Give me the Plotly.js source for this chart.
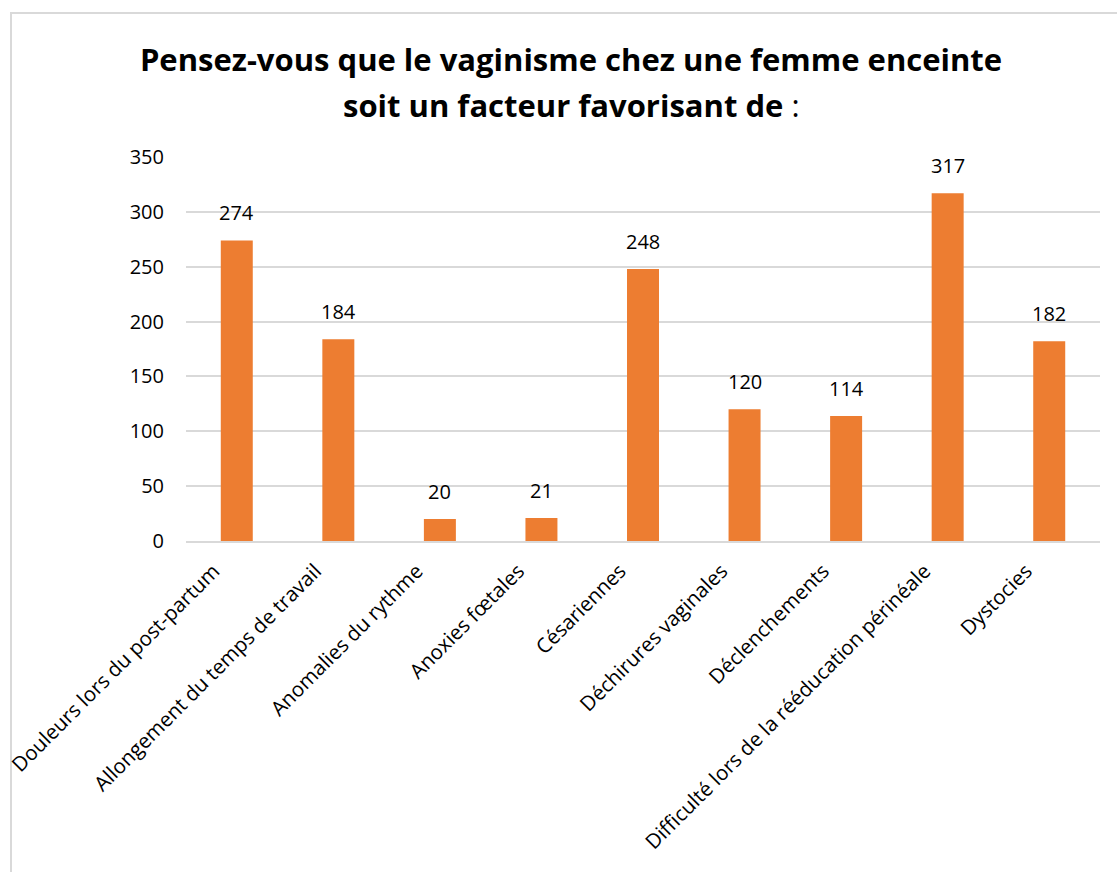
<!DOCTYPE html>
<html>
<head>
<meta charset="utf-8">
<script src="https://cdn.plot.ly/plotly-3.0.1.min.js"></script>
<style>
  html, body { margin: 0; padding: 0; background: #fff; overflow: hidden; }
  #frame { position: absolute; left: 10px; top: 12px; width: 1200px; height: 1000px;
           border-left: 2px solid #d9d9d9; border-top: 2px solid #d9d9d9; }
  #chart { position: absolute; left: 0; top: 0; width: 1117px; height: 872px; }
</style>
</head>
<body>
<div id="frame"></div>
<div id="chart"></div>
<script>
const categories = [
  "Douleurs lors du post-partum",
  "Allongement du temps de travail",
  "Anomalies du rythme",
  "Anoxies fœtales",
  "Césariennes",
  "Déchirures vaginales",
  "Déclenchements",
  "Difficulté lors de la rééducation périnéale",
  "Dystocies"
];
const values = [274, 184, 20, 21, 248, 120, 114, 317, 182];
const yTicks = [0, 50, 100, 150, 200, 250, 300, 350];
const titleLine1 = "Pensez-vous que le vaginisme chez une femme enceinte";
const titleLine2 = "soit un facteur favorisant de";

const FONT = "Open Sans, sans-serif";
const ML = 186, MR = 17, MT = 157, MB = 331;
const PW = 1117 - ML - MR, PH = 872 - MT - MB;
const TX = (571 - ML) / PW;

const trace = {
  type: "bar",
  x: categories,
  y: values,
  marker: { color: "#ED7D31" },
  hoverinfo: "x+y"
};

const valueLabels = categories.map((c, i) => ({
  x: c, y: values[i], xref: "x", yref: "y",
  text: String(values[i]),
  showarrow: false,
  yanchor: "bottom",
  yshift: 12,
  font: { family: FONT, size: 20, color: "#000" }
}));

const layout = {
  width: 1117,
  height: 872,
  paper_bgcolor: "rgba(0,0,0,0)",
  plot_bgcolor: "rgba(0,0,0,0)",
  margin: { l: ML, r: MR, t: MT, b: MB },
  showlegend: false,
  bargap: 0.685,
  title: {
    text: "<b>" + titleLine1 + "</b>",
    font: { family: FONT, size: 31, color: "#000" },
    x: TX, xref: "paper", xanchor: "center",
    y: 1 - 60 / 872, yref: "container", yanchor: "middle"
  },
  annotations: [{
    text: "<b>" + titleLine2 + "</b> :",
    font: { family: FONT, size: 31, color: "#000" },
    xref: "paper", yref: "paper",
    x: TX, xanchor: "center",
    y: 1 + (MT - 105) / PH, yanchor: "middle",
    showarrow: false
  }].concat(valueLabels),
  xaxis: {
    type: "category",
    tickangle: -45,
    tickfont: { family: FONT, size: 20.5, color: "#000" },
    showgrid: false,
    showline: true,
    linecolor: "#d9d9d9",
    linewidth: 2,
    ticks: "",
    ticklabelstandoff: 8,
    ticklabelshift: -23,
    fixedrange: true
  },
  yaxis: {
    range: [0, 350],
    tickvals: yTicks,
    ticktext: yTicks.map(String),
    tickfont: { family: FONT, size: 20, color: "#000" },
    showgrid: true,
    gridcolor: "#d9d9d9",
    gridwidth: 2,
    zeroline: false,
    showline: false,
    ticks: "",
    ticklabelstandoff: 21,
    fixedrange: true
  }
};

Plotly.newPlot("chart", [trace], layout, { displayModeBar: false, staticPlot: true });
</script>
</body>
</html>
